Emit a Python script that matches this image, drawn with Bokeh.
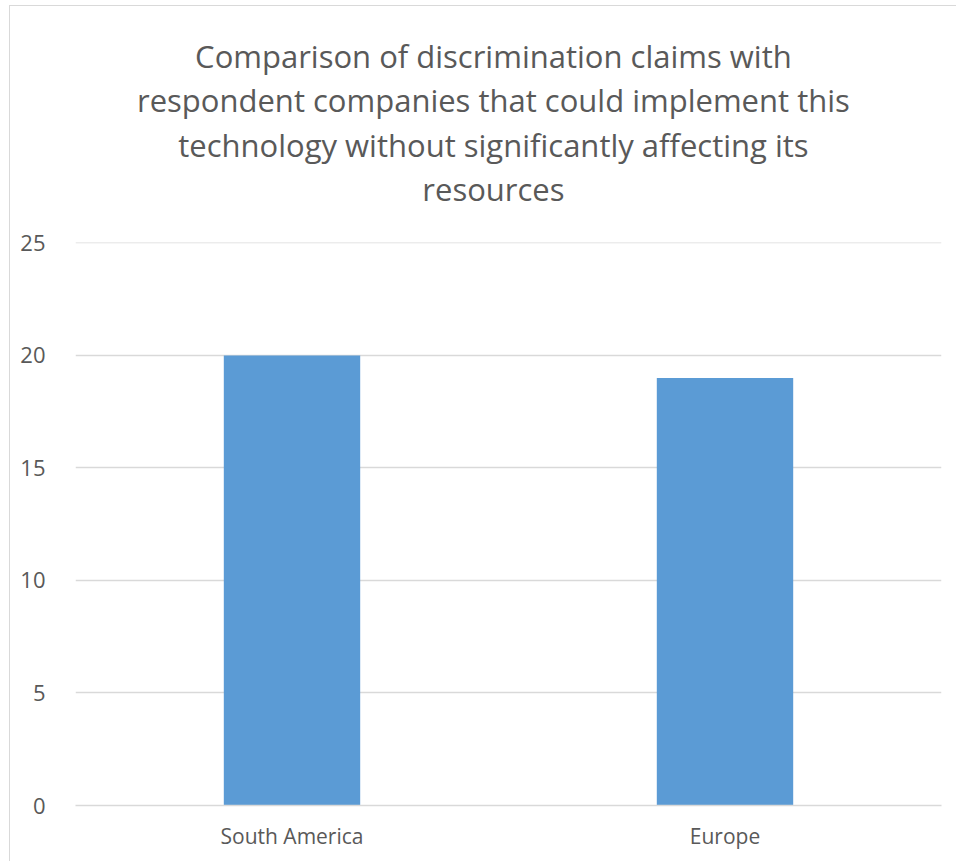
from bokeh.plotting import figure
from bokeh.layouts import column
from bokeh.models import FactorRange, Range1d, FixedTicker, ColumnDataSource
from bokeh.core.properties import value
from bokeh.embed import file_html
from bokeh.resources import INLINE

# Data
regions = ["South America", "Europe"]
claims = [20, 19]
y_ticks = [0, 5, 10, 15, 20, 25]
title_lines = [
    "Comparison of discrimination claims with",
    "respondent companies that could implement this",
    "technology without significantly affecting its",
    "resources",
]

TEXT = "#595959"
GRID = "#d9d9d9"
BAR = "#5b9bd5"
FONT = "Open Sans"

# Layout constants (pixels)
W = 947
TITLE_H = 221
CHART_H = 635
TITLE_CX = 457          # horizontal centre of the title block
TITLE_TOP = 49          # first title line centre, from top of the title panel
TITLE_STEP = 44.5       # line spacing

# --- title panel: a bare figure holding the wrapped title as text glyphs ---
tp = figure(
    width=W, height=TITLE_H,
    x_range=Range1d(0, W), y_range=Range1d(0, TITLE_H),
    x_axis_location=None, y_axis_location=None,
    output_backend="svg", toolbar_location=None,
    min_border=0, min_border_left=0, min_border_right=0,
    min_border_top=0, min_border_bottom=0,
)
tp.grid.visible = False
tp.outline_line_color = None
tp.styles = {"border-top": "1px solid #d9d9d9", "border-left": "1px solid #d9d9d9"}
title_src = ColumnDataSource(dict(
    x=[TITLE_CX] * len(title_lines),
    y=[TITLE_H - TITLE_TOP - i * TITLE_STEP for i in range(len(title_lines))],
    text=title_lines,
))
tp.text(x="x", y="y", text="text", source=title_src,
        text_align="center", text_baseline="middle",
        text_font=value(FONT), text_font_size="31px", text_color=TEXT)

# --- chart panel ---
p = figure(
    x_range=FactorRange(*regions, range_padding=0),
    y_range=Range1d(0, 25.02),
    width=W,
    height=CHART_H,
    output_backend="svg",
    toolbar_location=None,
    min_border_left=65,
    min_border_right=16,
    min_border_top=16,
    min_border_bottom=56,
)
p.styles = {"border-left": "1px solid #d9d9d9"}
p.outline_line_color = None

p.vbar(x=regions, top=claims, width=0.315, color=BAR, line_color=None)

p.yaxis.ticker = FixedTicker(ticks=y_ticks)
p.yaxis.axis_line_color = None
p.yaxis.major_tick_line_color = None
p.yaxis.minor_tick_line_color = None
p.yaxis.major_label_text_font = FONT
p.yaxis.major_label_text_font_size = "22px"
p.yaxis.major_label_text_color = TEXT
p.yaxis.major_label_standoff = 24

p.xaxis.axis_line_color = GRID
p.xaxis.axis_line_width = 1.5
p.xaxis.major_tick_line_color = None
p.xaxis.minor_tick_line_color = None
p.xaxis.major_label_text_font = FONT
p.xaxis.major_label_text_font_size = "21px"
p.xaxis.major_label_text_color = TEXT
p.xaxis.major_label_standoff = 10

p.xgrid.grid_line_color = None
p.ygrid.grid_line_color = GRID
p.ygrid.grid_line_width = 1.5

layout = column(tp, p, spacing=0)
layout.styles = {"margin-left": "9px", "margin-top": "5px"}

open("out.html", "w").write(file_html(layout, INLINE))
